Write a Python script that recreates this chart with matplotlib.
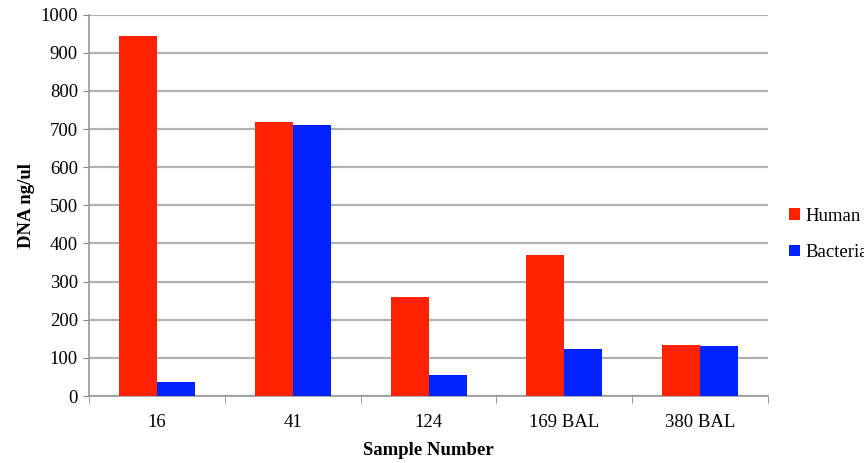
import matplotlib.pyplot as plt
import numpy as np

plt.rcParams['font.family'] = ['Liberation Serif', 'DejaVu Serif']

samples = ['16', '41', '124', '169 BAL', '380 BAL']
human = [945, 718, 260, 370, 135]
bacteria = [36, 710, 55, 122, 131]

fig = plt.figure(figsize=(8.64, 4.63), dpi=100)
ax = fig.add_axes([0.103, 0.1447, 0.786, 0.8236])

x = np.arange(len(samples))
w = 0.28
ax.bar(x - w / 2, human, w, color='#ff2200', label='Human', zorder=3)
ax.bar(x + w / 2, bacteria, w, color='#0022ff', label='Bacteria', zorder=3)

ax.set_xlim(-0.5, len(samples) - 0.5)
ax.set_ylim(0, 1000)
ax.set_yticks(np.arange(0, 1001, 100))
ax.yaxis.grid(True, color='#b0b0b0', linewidth=1.6, zorder=0)

# category labels centred, ticks on the group boundaries
ax.set_xticks(x)
ax.set_xticklabels(samples, fontsize=13.5)
ax.tick_params(axis='x', length=0, pad=13)
ax.set_xticks(np.arange(-0.5, len(samples)), minor=True)
ax.tick_params(axis='x', which='minor', length=5, color='#888888', direction='out')
ax.tick_params(axis='y', length=4, color='#888888', labelsize=13.5, pad=4)

for side in ['top', 'right']:
    ax.spines[side].set_visible(False)
for side in ['left', 'bottom']:
    ax.spines[side].set_color('#999999')
    ax.spines[side].set_linewidth(1.2)

ax.set_ylabel('DNA ng/ul', fontweight='bold', fontsize=13.5, labelpad=4)
ax.set_xlabel('Sample Number', fontweight='bold', fontsize=13.5, labelpad=8)

fig.legend(loc='upper left', bbox_to_anchor=(0.905, 0.568), frameon=False,
           handlelength=0.55, handleheight=0.55, handletextpad=0.3,
           labelspacing=1.05, fontsize=13.5, borderaxespad=0)

fig.savefig('out.png', dpi=100)
